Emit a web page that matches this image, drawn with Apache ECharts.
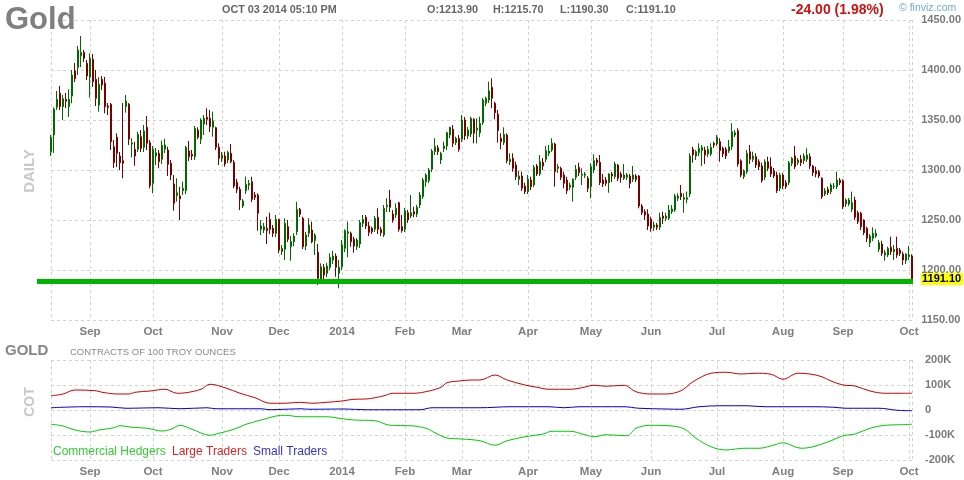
<!DOCTYPE html>
<html>
  <head>
    <meta charset="utf-8" />
    <style>
      html, body { margin: 0; padding: 0; background: #fff; }
      #container { width: 964px; height: 480px; }
    </style>
  </head>
  <body>
    <div id="container"></div>
    <script src="https://cdn.jsdelivr.net/npm/echarts@6.0.0/dist/echarts.min.js"></script>
    <script>
      // daily candles, one row per session: [open, high, low, close]
      // prettier-ignore
      const ohlc = [
        [1318.3,1335,1314,1332.7],[1335,1362.7,1317,1360.7],[1362.7,1379,1360,1370.7],[1376.7,1384,1360,1363.3],
        [1363.3,1375,1350,1371.3],[1370.7,1377,1362,1368.7],[1363.3,1380.7,1353,1370.7],[1374,1400,1366.7,1395],
        [1399,1407,1388,1391.3],[1402.7,1424,1395,1420],[1414.3,1434,1403,1417.7],[1417.7,1420,1408,1411.7],
        [1406.7,1410,1390,1394],[1392.7,1416.7,1372.3,1411.7],[1410.7,1416,1383,1388.3],[1390.7,1400,1364,1371.7],
        [1365,1392.7,1358.3,1385.7],[1390.7,1394,1380,1385],[1386.7,1393,1356.7,1363.3],[1364,1367,1355,1362.7],
        [1365.7,1367,1320,1328.3],[1323.3,1330,1302,1307.3],[1332.7,1336.7,1303,1316.7],[1314,1318,1300,1307.3],
        [1309.3,1367,1291.7,1306.7],[1363.3,1375,1357.3,1369],[1365.7,1367,1325,1330.7],[1326,1331.7,1312.7,1327],
        [1320.7,1328.3,1304.3,1314],[1320.7,1338.3,1318,1335.7],[1333.3,1340,1318,1321.7],[1322.7,1345,1318,1339],
        [1342.7,1354,1320,1326.7],[1327.3,1330,1281.7,1284.3],[1286.7,1324,1276.7,1320.7],[1314,1322,1305,1317.3],
        [1316.7,1320,1301.7,1308.3],[1310.7,1329.3,1306,1324.7],[1320.7,1331.3,1317,1325],[1320,1323.3,1294,1305.7],
        [1306.7,1310,1290,1295],[1286,1295,1259.3,1266.7],[1274.3,1291.7,1268.3,1277.3],[1274,1283.3,1250,1271.3],
        [1279.3,1288.3,1275,1281.7],[1279.3,1324,1276,1322.7],[1319,1329,1309,1313.3],[1315.7,1320,1310,1314],
        [1313.3,1344,1310,1341.7],[1340,1342.7,1330.7,1332.7],[1330.7,1351.7,1326,1350],[1346,1355,1335,1351.7],
        [1352.7,1361.7,1345,1350.7],[1351.7,1360,1338,1343.3],[1342.7,1358.3,1333.3,1349],[1342.3,1343.3,1320,1322.7],
        [1322.7,1326.7,1305,1311.7],[1311.7,1318,1308,1315],[1314,1318.3,1303.3,1306],[1310,1319.3,1307,1317.7],
        [1316.7,1326,1306.7,1308.3],[1307.7,1310,1281.7,1284],[1287.7,1291,1277,1280.7],[1280.7,1283.3,1260,1270],
        [1264,1271,1262,1269],[1279.3,1293.3,1276,1285.7],[1285,1290,1280,1286.7],[1288.3,1293.3,1268,1270.7],
        [1275,1278,1270,1272.7],[1275,1276.7,1239.3,1256.7],
        [1240.7,1250,1235,1244],[1240,1247,1237,1243.3],[1241.7,1253.3,1226,1239.3],[1250.7,1257.3,1236,1240.7],
        [1241.7,1245,1233,1236.7],[1236.7,1255,1233,1250.7],[1250.7,1251,1216.7,1220],[1218.3,1225,1215,1221.7],
        [1220.7,1251.7,1210,1246.7],[1243.3,1250,1228,1230.7],[1223.3,1234,1209.3,1228.3],[1228.3,1236.7,1224,1234],
        [1238.3,1268.3,1235,1260.7],[1260.7,1262,1253,1255.7],[1251.7,1253.3,1221,1223.3],[1224,1238,1220,1235],
        [1236.7,1251.7,1233,1245],[1240,1248.3,1226.7,1228.3],[1229.3,1236.7,1215,1235],[1217.7,1226,1185,1191.7],
        [1190.7,1206.7,1188,1203.3],[1202.7,1206,1191,1195],[1196.7,1207,1193,1204],[1202.7,1216.7,1200,1212.7],
        [1210,1219.3,1206,1214],[1214,1216.7,1193.3,1202.7],[1196.7,1210,1181.7,1202.7],[1203.3,1230,1200,1225],
        [1221.7,1240.7,1218,1239.3],[1236.7,1248.3,1212.7,1238.3],[1236.7,1238.3,1223.3,1228.3],[1230.7,1233.3,1217.3,1224],
        [1223.3,1232,1220,1230],[1226,1250,1222,1247.3],[1246.7,1255,1243,1250.7],[1252.7,1255,1241,1244],
        [1244,1248.3,1234,1237.7],[1241.7,1243.3,1236,1238.3],[1240.7,1254,1238,1251.7],[1252.7,1261.7,1236,1240.7],
        [1240.7,1243.3,1234,1237.3],[1235,1265,1233,1261.7],[1263.3,1271.7,1258,1264.7],[1270,1280,1258,1262.7],
        [1256,1260,1247.3,1250],[1255,1266.7,1252,1261.7],[1267.3,1268.3,1238.3,1240.7],[1243.3,1255,1237.3,1239.3],
        [1240.7,1262,1238,1259.3],[1257.3,1260,1247,1250],[1254,1275,1252,1257.3],[1258.3,1263.3,1252.7,1256],
        [1256,1265,1253,1262.7],[1265,1278,1262,1275],[1273.3,1292,1271,1290],[1288.3,1296.7,1283.3,1295],
        [1289.3,1302,1287,1300],[1300.7,1321,1298,1319],[1318.3,1331.7,1315,1323.3],[1322.3,1325,1315,1318.3],
        [1310,1318.3,1306,1316.7],[1321.3,1328.3,1318,1324],[1324,1338.3,1320,1337.3],[1335,1343.3,1332,1342.7],
        [1340.7,1345,1323,1326.7],[1327.3,1333.3,1325,1331.7],[1331.7,1335,1318.3,1320.7],[1330.7,1355,1328,1350],
        [1350,1353,1330,1334],[1334,1343,1331,1340],[1336,1353.3,1333,1351.7],[1350.7,1352,1326.7,1336.7],
        [1340,1351.7,1326.7,1341.7],[1337.3,1353.3,1333,1346.7],[1347.3,1372,1345,1370],[1366.7,1373.3,1364,1371.7],
        [1370,1388.3,1367,1379],[1382.7,1391.7,1361.7,1371.7],[1366.7,1368.3,1350.7,1357.3],[1355.7,1360,1327.3,1339.3],
        [1331.7,1336.7,1320.7,1328.3],[1327.3,1342.7,1325,1335.7],[1335,1336.7,1306.7,1309.3],[1308.3,1316.7,1305,1310.7],
        [1311.7,1316.7,1298.3,1301.7],[1305,1308.3,1290,1293.3],[1290.7,1299.3,1285,1294],[1294,1298.3,1279,1281.7],
        [1284,1287.3,1276,1278.3],[1278.3,1295,1276,1290.7],[1290,1293.3,1280,1283.3],[1285,1305,1283,1302.7],
        [1304,1306,1294,1296],[1296,1315,1294,1308.3],[1307.7,1312,1300,1304],[1310.7,1324,1308,1319.3],
        [1316.7,1325,1314,1319],[1320,1331.7,1318,1326.7],[1326,1327.3,1283.3,1298.3],[1301.7,1306,1297,1303.3],
        [1301.7,1303.3,1290,1292.7],[1295,1298.3,1281.7,1286.7],[1290,1293.3,1276,1279.3],[1282.7,1287.3,1280,1285],
        [1282.7,1291.7,1268.3,1290.7],[1292.7,1305,1290,1300.7],[1302.7,1307.3,1294,1297.3],[1294.7,1301.7,1285,1295.7],
        [1294.7,1298,1292,1296],[1291.7,1294,1278,1281.7],[1283.3,1306.7,1271.7,1303.3],[1300,1315.7,1297,1309.3],
        [1310,1312,1304,1307.3],[1307.7,1315,1285,1287.3],[1290,1296,1283,1286],[1290,1293,1284,1286.7],
        [1287.3,1296.7,1277.3,1296],[1296,1298,1288,1294],[1293.3,1308.3,1291,1306],[1305,1306,1289,1291.7],
        [1296,1298.3,1287.3,1292.7],[1291.7,1306,1290,1295],[1292.7,1297,1290,1295],[1294,1296,1281.7,1286.7],
        [1290.7,1304,1288,1295],[1294,1296,1288,1290.7],[1294,1295,1261.7,1264],[1264,1266,1255,1257.3],
        [1258.3,1260.7,1250,1255],[1256,1260.7,1240,1244],[1250.7,1253.3,1238.3,1241.7],[1242.7,1248.3,1239,1245],
        [1245,1247,1240,1242.7],[1242.7,1257.3,1240,1252.7],[1254,1258.3,1246,1251.7],[1251.7,1257.3,1249,1254],
        [1251.7,1265,1250,1260],[1258.3,1265,1256,1261],[1260,1276,1258,1274],[1271.7,1276.7,1269,1274],
        [1276.7,1285,1270,1273.3],[1270.7,1276.7,1257.3,1272.3],[1270.7,1278.3,1266.7,1272.3],
        [1276,1316.7,1273,1314],[1320.7,1323.3,1307.3,1315],[1314,1320,1310,1318.3],[1317.3,1326.7,1314,1321.7],
        [1319.3,1325,1304,1322.7],[1320,1323.3,1306,1315],[1316,1324,1313,1320.7],[1316,1326.7,1314,1322.7],
        [1326.7,1328.3,1322,1325],[1326,1335,1324,1332.7],[1328.3,1331.7,1308.3,1319.3],[1321.7,1323.3,1313,1316],
        [1320.7,1323,1311,1314],[1319,1330,1317,1323.3],[1323.3,1346.7,1320,1338.3],[1335,1340,1333,1337.3],
        [1339.3,1341.7,1303.3,1306],[1309.3,1310.7,1292.7,1295],[1293.3,1300.7,1291,1299.3],[1298.3,1320,1296,1316.7],
        [1318.3,1325,1306,1310.7],[1310.7,1318.3,1308,1314],[1313.3,1316.7,1302,1305],[1308.3,1310.7,1300,1303.3],
        [1304,1307.3,1287.3,1289.3],[1292.7,1310.7,1290,1308.3],[1308.3,1313.3,1299,1301.7],[1303.3,1312.7,1293,1296],
        [1299.3,1302,1292,1294],[1295,1298.3,1277,1279.3],[1281.7,1297.3,1279,1295],[1295,1297,1281,1284],
        [1287.3,1290,1281,1283.3],[1287.3,1309,1285,1307.3],[1306.7,1313,1304,1311.7],[1314,1324,1301,1303.3],
        [1307.3,1312,1305,1310],[1310.7,1315,1304,1307.3],[1309.3,1316.7,1306,1314],[1310.7,1321.7,1308,1315],
        [1313.3,1316.7,1301,1304],[1304,1305,1294,1297.3],[1299.3,1303.3,1292.7,1296],[1298.3,1300,1292,1294],
        [1291.7,1292.7,1271,1273.3],[1276,1282,1274,1279.3],[1280.7,1283.3,1275,1277.3],[1278.3,1286.7,1276,1285],
        [1283.3,1287,1281,1284],[1283.3,1298.3,1281,1290],[1290,1292,1285,1287.3],[1289.3,1290.7,1261,1263.3],
        [1266,1271.7,1263,1270],[1266,1272,1264,1270],[1260.7,1278.3,1258,1267.3],[1270,1273.3,1250,1252.7],
        [1257.3,1259.3,1246,1248.3],[1256.7,1258.3,1240,1243.3],[1250,1250.7,1235,1237.3],[1241.7,1243.3,1228,1231.7],
        [1227.3,1236,1223,1234],[1231.7,1242.7,1229,1236.7],[1234,1240.7,1232,1236.7],[1220.7,1230,1218,1227.3],
        [1226,1229.3,1214,1216.7],[1215,1220,1209.3,1217.3],[1215,1223.3,1213,1221.7],[1222.7,1233.3,1215,1218.3],
        [1218.3,1225,1210,1220.7],[1221.7,1233.3,1212,1215],[1220,1222,1214,1216.7],[1216,1218.3,1205,1210],
        [1209.3,1216.7,1206,1216],[1213.3,1224,1210,1215],[1213.9,1215.7,1190.3,1191.1]
      ];

      // month labels: session index where each month starts
      const tickIndex = [13, 34, 57, 76, 97, 118, 137, 159, 180, 200, 222, 244, 264, 286];
      const tickLabels = ["Sep", "Oct", "Nov", "Dec", "2014", "Feb", "Mar", "Apr", "May", "Jun", "Jul", "Aug", "Sep", "Oct"];

      const priceTicks = { min: 1150, max: 1450, step: 50 };
      const cotTicks = { min: -200, max: 200, step: 100 }; // thousands of contracts

      // COT positions (thousands of contracts), [session index, value]
      // prettier-ignore
      const largeTraders = [[0,57],[4,64],[8,80],[15,77],[17,71],[22,64],[26,64],[28,71],[33,76],[38,83],[42,67],[45,69],[50,83],[53,103],[58,89],[63,67],[68,49],[73,27],[78,27],[83,31],[87,27],[92,31],[97,36],[101,43],[105,44],[111,57],[114,67],[121,67],[126,76],[130,91],[132,109],[136,116],[140,120],[143,120],[148,140],[152,120],[158,100],[162,91],[166,83],[173,83],[177,89],[181,99],[185,95],[191,99],[195,73],[200,64],[205,64],[210,77],[214,113],[220,147],[225,151],[230,144],[235,147],[240,143],[244,123],[249,147],[253,144],[257,133],[260,116],[264,100],[268,96],[273,76],[278,67],[283,67],[287,67]];
      // prettier-ignore
      const smallTraders = [[0,9],[11,13],[20,12],[25,7],[36,9],[43,5],[52,9],[55,5],[70,5],[73,1],[83,5],[86,3],[98,4],[105,1],[123,1],[127,9],[143,9],[153,13],[166,13],[171,9],[176,13],[191,13],[196,7],[205,4],[210,3],[216,13],[223,17],[232,17],[238,13],[254,13],[261,11],[265,7],[276,7],[282,-1],[287,-3]];
      // prettier-ignore
      const commercialHedgers = [[0,-57],[4,-64],[8,-80],[13,-88],[16,-80],[21,-71],[23,-63],[27,-69],[32,-73],[37,-84],[40,-77],[43,-61],[47,-77],[53,-101],[56,-93],[61,-77],[65,-57],[71,-37],[75,-24],[78,-21],[83,-27],[92,-27],[96,-33],[101,-40],[108,-43],[113,-61],[120,-63],[125,-73],[128,-91],[132,-112],[137,-116],[143,-123],[148,-141],[152,-123],[158,-107],[164,-96],[167,-85],[173,-85],[178,-99],[181,-107],[185,-99],[192,-103],[195,-73],[200,-61],[206,-63],[211,-75],[215,-113],[220,-147],[225,-160],[231,-153],[236,-153],[241,-140],[244,-131],[250,-153],[254,-147],[260,-123],[264,-103],[268,-96],[273,-73],[278,-61],[283,-59],[287,-57]];

      const supportLevel = 1188.5;
      const lastClose = 1191.1;

      const FONT = "Liberation Sans, Arial, sans-serif";
      const GRID_LINE = { type: [3, 3], color: "#d2d2d2", width: 1 };
      const cats = ohlc.map((d, i) => String(i));
      const lastIdx = ohlc.length - 1;

      function monthAxis(gridIndex) {
        return {
          type: "category",
          gridIndex: gridIndex,
          data: cats,
          boundaryGap: false,
          axisLine: { show: false },
          axisTick: { show: false },
          axisLabel: {
            interval: function (i) { return tickIndex.indexOf(i) >= 0; },
            formatter: function (v, i) { return tickLabels[tickIndex.indexOf(i)] || ""; },
            color: "#7f7f7f",
            fontWeight: "bold",
            fontSize: 11.5,
            fontFamily: FONT,
            margin: 6,
          },
          splitLine: {
            show: true,
            interval: function (i) { return i === 0 || i === lastIdx || tickIndex.indexOf(i) >= 0; },
            lineStyle: GRID_LINE,
          },
        };
      }

      function rightAxis(gridIndex, t, fmt, showLabel, showSplit) {
        return {
          type: "value",
          gridIndex: gridIndex,
          position: "right",
          min: t.min,
          max: t.max,
          interval: t.step,
          axisLine: { show: false },
          axisTick: { show: false },
          axisLabel: {
            show: showLabel,
            formatter: fmt,
            color: "#7a7a7a",
            fontWeight: "bold",
            fontSize: 11,
            fontFamily: FONT,
            margin: 13,
          },
          splitLine: { show: showSplit, lineStyle: GRID_LINE },
        };
      }

      const priceFmt = function (v) { return v.toFixed(2); };
      const cotFmt = function (v) { return v === 0 ? "0" : v + "K"; };

      var chart = echarts.init(document.getElementById("container"));

      var option = {
        animation: false,
        backgroundColor: "#ffffff",
        grid: [
          { left: 51, right: 52, top: 20, height: 300 },
          { left: 51, right: 52, top: 360, height: 100 },
          // same box as the price panel, only carries the price labels
          { left: 51, right: 52, top: 20, height: 300 },
        ],
        xAxis: [
          monthAxis(0),
          monthAxis(1),
          { type: "value", gridIndex: 2, show: false },
        ],
        yAxis: [
          rightAxis(0, priceTicks, priceFmt, false, true),
          rightAxis(1, cotTicks, cotFmt, true, true),
          rightAxis(2, priceTicks, priceFmt, true, false),
        ],
        series: [
          {
            name: "Gold",
            type: "candlestick",
            xAxisIndex: 0,
            yAxisIndex: 0,
            barWidth: 2.4,
            itemStyle: {
              color: "#00dc00",
              color0: "#e00000",
              borderColor: "#006a00",
              borderColor0: "#7a0000",
              borderWidth: 1,
            },
            data: ohlc.map(function (d) { return [d[0], d[3], d[2], d[1]]; }),
          },
          {
            name: "Large Traders",
            type: "line",
            xAxisIndex: 1,
            yAxisIndex: 1,
            smooth: 0.35,
            showSymbol: false,
            lineStyle: { color: "#cc0000", width: 1 },
            data: largeTraders,
          },
          {
            name: "Small Traders",
            type: "line",
            xAxisIndex: 1,
            yAxisIndex: 1,
            smooth: 0.35,
            showSymbol: false,
            lineStyle: { color: "#0000cc", width: 1 },
            data: smallTraders,
          },
          {
            name: "Commercial Hedgers",
            type: "line",
            xAxisIndex: 1,
            yAxisIndex: 1,
            smooth: 0.35,
            showSymbol: false,
            lineStyle: { color: "#00cc00", width: 1 },
            data: commercialHedgers,
          },
        ],
      };

      chart.setOption(option);

      function txt(x, y, text, style, extra) {
        var el = {
          type: "text",
          x: x,
          y: y,
          silent: true,
          style: Object.assign({ text: text, fontFamily: FONT, verticalAlign: "middle" }, style),
        };
        return Object.assign(el, extra || {});
      }

      var ySupport = chart.convertToPixel({ yAxisIndex: 0 }, supportLevel);
      var yClose = chart.convertToPixel({ yAxisIndex: 0 }, lastClose);

      chart.setOption({
        graphic: [
          {
            type: "line",
            silent: true,
            z: 10,
            shape: { x1: 37, y1: ySupport, x2: 913, y2: ySupport },
            style: { stroke: "#00b400", lineWidth: 5 },
          },
          txt(921, yClose, "1191.10", {
            fill: "#000",
            fontSize: 11,
            fontWeight: "bold",
            backgroundColor: "#ffff00",
            padding: [1, 2, 0, 1],
          }, { z: 11 }),
          txt(5, 20, "Gold", { fill: "#808080", fontSize: 31, fontWeight: "bold" }, { z: 1 }),
          txt(222, 10, "OCT 03 2014 05:10 PM", { fill: "#666", fontSize: 10.8, fontWeight: "bold" }),
          txt(427, 10, "O:1213.90", { fill: "#666", fontSize: 10.8, fontWeight: "bold" }),
          txt(493, 10, "H:1215.70", { fill: "#666", fontSize: 10.8, fontWeight: "bold" }),
          txt(560, 10, "L:1190.30", { fill: "#666", fontSize: 10.8, fontWeight: "bold" }),
          txt(626, 10, "C:1191.10", { fill: "#666", fontSize: 10.8, fontWeight: "bold" }),
          txt(791, 10, "-24.00 (1.98%)", { fill: "#cc1111", fontSize: 14, fontWeight: "bold" }),
          txt(899, 8, "\u00a9 finviz.com", { fill: "#6fa8dc", fontSize: 10.5 }),
          txt(30, 171, "DAILY", { fill: "#c8c8c8", fontSize: 15, fontWeight: "bold", align: "center" }, { rotation: Math.PI / 2 }),
          txt(5, 351, "GOLD", { fill: "#858585", fontSize: 15, fontWeight: "bold" }),
          txt(70, 352, "CONTRACTS OF 100 TROY OUNCES", { fill: "#888", fontSize: 9.5 }),
          txt(30, 402, "COT", { fill: "#c8c8c8", fontSize: 14, fontWeight: "bold", align: "center" }, { rotation: Math.PI / 2 }),
          txt(53, 452, "Commercial Hedgers", { fill: "#33cc33", fontSize: 12 }),
          txt(172, 452, "Large Traders", { fill: "#dd2222", fontSize: 12 }),
          txt(253, 452, "Small Traders", { fill: "#3333cc", fontSize: 12 }),
        ],
      });
    </script>
  </body>
</html>
